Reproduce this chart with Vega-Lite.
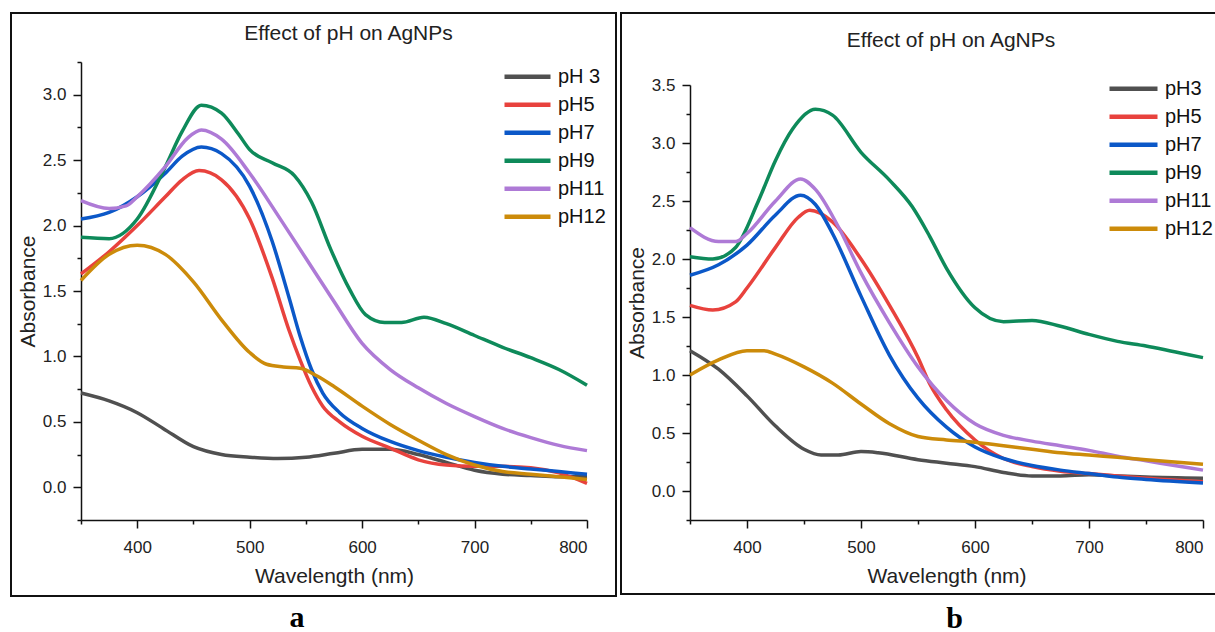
{
  "$schema": "https://vega.github.io/schema/vega-lite/v6.json",
  "background": "white",
  "padding": {"left": 10, "top": 12, "right": 0, "bottom": 0},
  "spacing": 3,
  "config": {
    "font": "Liberation Sans",
    "view": {"stroke": "#111", "strokeWidth": 2},
    "axis": {"grid": false, "labelOverlap": false, "domainColor": "#111", "domainWidth": 1.5, "tickColor": "#111", "tickWidth": 1.5, "labelColor": "#222", "titleColor": "#222", "labelFontSize": 17, "titleFontSize": 21, "titleFontWeight": "normal", "labelFont": "Liberation Sans", "titleFont": "Liberation Sans"}
  },
  "resolve": {"scale": {"x": "independent", "y": "independent", "color": "independent"}, "legend": {"color": "independent"}, "axis": {"x": "independent", "y": "independent"}},
  "datasets": {
    "a": [
      {"s":"pH 3","wl":350,"A":0.72},{"s":"pH 3","wl":375,"A":0.66},{"s":"pH 3","wl":400,"A":0.57},{"s":"pH 3","wl":423,"A":0.45},{"s":"pH 3","wl":450,"A":0.31},{"s":"pH 3","wl":475,"A":0.25},{"s":"pH 3","wl":500,"A":0.23},{"s":"pH 3","wl":525,"A":0.22},{"s":"pH 3","wl":550,"A":0.23},{"s":"pH 3","wl":575,"A":0.26},{"s":"pH 3","wl":600,"A":0.29},{"s":"pH 3","wl":625,"A":0.29},{"s":"pH 3","wl":650,"A":0.25},{"s":"pH 3","wl":675,"A":0.19},{"s":"pH 3","wl":700,"A":0.13},{"s":"pH 3","wl":725,"A":0.10},{"s":"pH 3","wl":750,"A":0.09},{"s":"pH 3","wl":775,"A":0.08},{"s":"pH 3","wl":800,"A":0.08},
      {"s":"pH5","wl":350,"A":1.63},{"s":"pH5","wl":375,"A":1.80},{"s":"pH5","wl":400,"A":2.00},{"s":"pH5","wl":425,"A":2.22},{"s":"pH5","wl":440,"A":2.35},{"s":"pH5","wl":455,"A":2.42},{"s":"pH5","wl":475,"A":2.35},{"s":"pH5","wl":500,"A":2.05},{"s":"pH5","wl":520,"A":1.60},{"s":"pH5","wl":535,"A":1.20},{"s":"pH5","wl":545,"A":0.97},{"s":"pH5","wl":555,"A":0.77},{"s":"pH5","wl":565,"A":0.62},{"s":"pH5","wl":580,"A":0.50},{"s":"pH5","wl":600,"A":0.39},{"s":"pH5","wl":625,"A":0.30},{"s":"pH5","wl":650,"A":0.21},{"s":"pH5","wl":675,"A":0.17},{"s":"pH5","wl":700,"A":0.16},{"s":"pH5","wl":725,"A":0.16},{"s":"pH5","wl":750,"A":0.15},{"s":"pH5","wl":775,"A":0.11},{"s":"pH5","wl":800,"A":0.03},
      {"s":"pH7","wl":350,"A":2.05},{"s":"pH7","wl":375,"A":2.10},{"s":"pH7","wl":400,"A":2.22},{"s":"pH7","wl":425,"A":2.40},{"s":"pH7","wl":440,"A":2.53},{"s":"pH7","wl":457,"A":2.60},{"s":"pH7","wl":475,"A":2.55},{"s":"pH7","wl":500,"A":2.30},{"s":"pH7","wl":520,"A":1.88},{"s":"pH7","wl":535,"A":1.45},{"s":"pH7","wl":545,"A":1.15},{"s":"pH7","wl":555,"A":0.90},{"s":"pH7","wl":565,"A":0.72},{"s":"pH7","wl":580,"A":0.57},{"s":"pH7","wl":600,"A":0.45},{"s":"pH7","wl":625,"A":0.35},{"s":"pH7","wl":650,"A":0.28},{"s":"pH7","wl":675,"A":0.23},{"s":"pH7","wl":700,"A":0.19},{"s":"pH7","wl":725,"A":0.16},{"s":"pH7","wl":750,"A":0.14},{"s":"pH7","wl":775,"A":0.12},{"s":"pH7","wl":800,"A":0.10},
      {"s":"pH9","wl":350,"A":1.91},{"s":"pH9","wl":375,"A":1.90},{"s":"pH9","wl":400,"A":2.05},{"s":"pH9","wl":425,"A":2.45},{"s":"pH9","wl":440,"A":2.72},{"s":"pH9","wl":457,"A":2.92},{"s":"pH9","wl":475,"A":2.86},{"s":"pH9","wl":490,"A":2.70},{"s":"pH9","wl":500,"A":2.58},{"s":"pH9","wl":520,"A":2.48},{"s":"pH9","wl":540,"A":2.38},{"s":"pH9","wl":555,"A":2.18},{"s":"pH9","wl":572,"A":1.82},{"s":"pH9","wl":589,"A":1.51},{"s":"pH9","wl":603,"A":1.32},{"s":"pH9","wl":620,"A":1.26},{"s":"pH9","wl":635,"A":1.26},{"s":"pH9","wl":655,"A":1.30},{"s":"pH9","wl":675,"A":1.25},{"s":"pH9","wl":700,"A":1.16},{"s":"pH9","wl":725,"A":1.07},{"s":"pH9","wl":750,"A":0.99},{"s":"pH9","wl":775,"A":0.90},{"s":"pH9","wl":800,"A":0.78},
      {"s":"pH11","wl":350,"A":2.19},{"s":"pH11","wl":375,"A":2.13},{"s":"pH11","wl":390,"A":2.15},{"s":"pH11","wl":400,"A":2.22},{"s":"pH11","wl":425,"A":2.45},{"s":"pH11","wl":445,"A":2.67},{"s":"pH11","wl":457,"A":2.73},{"s":"pH11","wl":475,"A":2.66},{"s":"pH11","wl":500,"A":2.40},{"s":"pH11","wl":525,"A":2.08},{"s":"pH11","wl":550,"A":1.75},{"s":"pH11","wl":575,"A":1.42},{"s":"pH11","wl":600,"A":1.10},{"s":"pH11","wl":625,"A":0.90},{"s":"pH11","wl":650,"A":0.76},{"s":"pH11","wl":675,"A":0.64},{"s":"pH11","wl":700,"A":0.54},{"s":"pH11","wl":725,"A":0.45},{"s":"pH11","wl":750,"A":0.38},{"s":"pH11","wl":775,"A":0.32},{"s":"pH11","wl":800,"A":0.28},
      {"s":"pH12","wl":350,"A":1.58},{"s":"pH12","wl":375,"A":1.78},{"s":"pH12","wl":400,"A":1.85},{"s":"pH12","wl":425,"A":1.78},{"s":"pH12","wl":450,"A":1.57},{"s":"pH12","wl":475,"A":1.28},{"s":"pH12","wl":500,"A":1.03},{"s":"pH12","wl":515,"A":0.94},{"s":"pH12","wl":530,"A":0.92},{"s":"pH12","wl":545,"A":0.91},{"s":"pH12","wl":560,"A":0.85},{"s":"pH12","wl":575,"A":0.77},{"s":"pH12","wl":600,"A":0.62},{"s":"pH12","wl":625,"A":0.48},{"s":"pH12","wl":650,"A":0.36},{"s":"pH12","wl":675,"A":0.25},{"s":"pH12","wl":700,"A":0.17},{"s":"pH12","wl":725,"A":0.12},{"s":"pH12","wl":750,"A":0.10},{"s":"pH12","wl":775,"A":0.08},{"s":"pH12","wl":800,"A":0.06}
    ],
    "b": [
      {"s":"pH3","wl":350,"A":1.21},{"s":"pH3","wl":375,"A":1.05},{"s":"pH3","wl":400,"A":0.82},{"s":"pH3","wl":425,"A":0.56},{"s":"pH3","wl":450,"A":0.36},{"s":"pH3","wl":465,"A":0.31},{"s":"pH3","wl":480,"A":0.31},{"s":"pH3","wl":500,"A":0.34},{"s":"pH3","wl":515,"A":0.33},{"s":"pH3","wl":550,"A":0.27},{"s":"pH3","wl":575,"A":0.24},{"s":"pH3","wl":600,"A":0.21},{"s":"pH3","wl":625,"A":0.16},{"s":"pH3","wl":650,"A":0.13},{"s":"pH3","wl":675,"A":0.13},{"s":"pH3","wl":700,"A":0.14},{"s":"pH3","wl":725,"A":0.13},{"s":"pH3","wl":750,"A":0.12},{"s":"pH3","wl":800,"A":0.11},
      {"s":"pH5","wl":350,"A":1.60},{"s":"pH5","wl":370,"A":1.56},{"s":"pH5","wl":390,"A":1.63},{"s":"pH5","wl":400,"A":1.75},{"s":"pH5","wl":425,"A":2.10},{"s":"pH5","wl":445,"A":2.36},{"s":"pH5","wl":455,"A":2.42},{"s":"pH5","wl":475,"A":2.32},{"s":"pH5","wl":500,"A":2.00},{"s":"pH5","wl":525,"A":1.60},{"s":"pH5","wl":550,"A":1.15},{"s":"pH5","wl":560,"A":0.93},{"s":"pH5","wl":575,"A":0.70},{"s":"pH5","wl":600,"A":0.44},{"s":"pH5","wl":625,"A":0.28},{"s":"pH5","wl":650,"A":0.21},{"s":"pH5","wl":675,"A":0.17},{"s":"pH5","wl":700,"A":0.15},{"s":"pH5","wl":725,"A":0.13},{"s":"pH5","wl":750,"A":0.11},{"s":"pH5","wl":800,"A":0.08},
      {"s":"pH7","wl":350,"A":1.86},{"s":"pH7","wl":375,"A":1.95},{"s":"pH7","wl":400,"A":2.12},{"s":"pH7","wl":425,"A":2.38},{"s":"pH7","wl":447,"A":2.55},{"s":"pH7","wl":460,"A":2.47},{"s":"pH7","wl":475,"A":2.22},{"s":"pH7","wl":500,"A":1.68},{"s":"pH7","wl":525,"A":1.17},{"s":"pH7","wl":550,"A":0.80},{"s":"pH7","wl":575,"A":0.55},{"s":"pH7","wl":600,"A":0.38},{"s":"pH7","wl":625,"A":0.28},{"s":"pH7","wl":650,"A":0.22},{"s":"pH7","wl":675,"A":0.18},{"s":"pH7","wl":700,"A":0.15},{"s":"pH7","wl":725,"A":0.12},{"s":"pH7","wl":750,"A":0.10},{"s":"pH7","wl":800,"A":0.07},
      {"s":"pH9","wl":350,"A":2.02},{"s":"pH9","wl":370,"A":2.00},{"s":"pH9","wl":390,"A":2.10},{"s":"pH9","wl":410,"A":2.50},{"s":"pH9","wl":425,"A":2.85},{"s":"pH9","wl":440,"A":3.12},{"s":"pH9","wl":460,"A":3.29},{"s":"pH9","wl":475,"A":3.24},{"s":"pH9","wl":500,"A":2.92},{"s":"pH9","wl":525,"A":2.68},{"s":"pH9","wl":545,"A":2.45},{"s":"pH9","wl":560,"A":2.20},{"s":"pH9","wl":575,"A":1.92},{"s":"pH9","wl":600,"A":1.58},{"s":"pH9","wl":625,"A":1.46},{"s":"pH9","wl":650,"A":1.47},{"s":"pH9","wl":675,"A":1.42},{"s":"pH9","wl":700,"A":1.35},{"s":"pH9","wl":725,"A":1.29},{"s":"pH9","wl":750,"A":1.25},{"s":"pH9","wl":775,"A":1.20},{"s":"pH9","wl":800,"A":1.15},
      {"s":"pH11","wl":350,"A":2.27},{"s":"pH11","wl":375,"A":2.15},{"s":"pH11","wl":390,"A":2.15},{"s":"pH11","wl":400,"A":2.22},{"s":"pH11","wl":425,"A":2.50},{"s":"pH11","wl":447,"A":2.69},{"s":"pH11","wl":460,"A":2.60},{"s":"pH11","wl":480,"A":2.28},{"s":"pH11","wl":500,"A":1.88},{"s":"pH11","wl":525,"A":1.45},{"s":"pH11","wl":550,"A":1.07},{"s":"pH11","wl":575,"A":0.78},{"s":"pH11","wl":600,"A":0.58},{"s":"pH11","wl":625,"A":0.48},{"s":"pH11","wl":650,"A":0.43},{"s":"pH11","wl":675,"A":0.39},{"s":"pH11","wl":700,"A":0.35},{"s":"pH11","wl":725,"A":0.30},{"s":"pH11","wl":750,"A":0.26},{"s":"pH11","wl":775,"A":0.22},{"s":"pH11","wl":800,"A":0.18},
      {"s":"pH12","wl":350,"A":1.00},{"s":"pH12","wl":375,"A":1.13},{"s":"pH12","wl":400,"A":1.21},{"s":"pH12","wl":415,"A":1.21},{"s":"pH12","wl":425,"A":1.18},{"s":"pH12","wl":450,"A":1.07},{"s":"pH12","wl":475,"A":0.93},{"s":"pH12","wl":500,"A":0.75},{"s":"pH12","wl":525,"A":0.58},{"s":"pH12","wl":550,"A":0.47},{"s":"pH12","wl":575,"A":0.44},{"s":"pH12","wl":600,"A":0.42},{"s":"pH12","wl":625,"A":0.39},{"s":"pH12","wl":650,"A":0.36},{"s":"pH12","wl":675,"A":0.33},{"s":"pH12","wl":700,"A":0.31},{"s":"pH12","wl":725,"A":0.29},{"s":"pH12","wl":750,"A":0.27},{"s":"pH12","wl":800,"A":0.23}
    ]
  },
  "hconcat": [
    {
      "width": 605,
      "height": 583,
      "title": {"text": "Effect of pH on AgNPs", "orient": "top", "anchor": "middle", "baseline": "alphabetic", "offset": -48, "dx": 35, "fontSize": 21, "fontWeight": "normal", "font": "Liberation Sans", "color": "#222"},
      "layer": [
        {
          "data": {"name": "a"},
          "mark": {"type": "line", "interpolate": "monotone", "strokeWidth": 3.5},
          "encoding": {
            "x": {"field": "wl", "type": "quantitative", "scale": {"domain": [350, 800], "range": [70, 576], "nice": false, "zero": false},
              "axis": {"orient": "bottom", "offset": -76, "title": "Wavelength (nm)", "values": [350,400,450,500,550,600,650,700,750,800], "labelExpr": "datum.value % 100 === 0 ? datum.label : ''", "tickSize": {"condition": {"test": "datum.value % 100 === 0", "value": 8}, "value": 4}, "labelPadding": 11, "titlePadding": 10}},
            "y": {"field": "A", "type": "quantitative", "scale": {"domain": [-0.25, 3.25], "range": [507, 49], "nice": false, "zero": false},
              "axis": {"orient": "left", "offset": -70, "title": "Absorbance", "values": [-0.25,0,0.25,0.5,0.75,1,1.25,1.5,1.75,2,2.25,2.5,2.75,3,3.25], "labelExpr": "abs(datum.value*2 - round(datum.value*2)) < 0.001 && datum.value >= 0 ? format(datum.value, '.1f') : ''", "tickSize": {"condition": {"test": "abs(datum.value*2 - round(datum.value*2)) < 0.001 && datum.value >= 0", "value": 8}, "value": 4}, "labelPadding": 7, "titlePadding": 4}},
            "color": {"field": "s", "type": "nominal", "sort": null,
              "scale": {"domain": ["pH 3","pH5","pH7","pH9","pH11","pH12"], "range": ["#505050","#e8423d","#0b58c8","#0e8a5a","#ae7ad6","#cc8b0a"]},
              "legend": {"orient": "none", "legendX": 491, "legendY": 50, "title": null, "symbolType": "stroke", "symbolSize": 2116, "symbolStrokeWidth": 4.5, "labelFontSize": 20, "labelFont": "Liberation Sans", "labelColor": "#111", "labelOffset": 5, "clipHeight": 27.5, "rowPadding": 0, "padding": 0}}
          }
        },
        {
          "data": {"values": [{}]},
          "mark": {"type": "text", "text": "a", "font": "Liberation Serif", "fontWeight": "bold", "fontSize": 30, "baseline": "alphabetic", "color": "#000"},
          "encoding": {"x": {"datum": 542, "type": "quantitative"}, "y": {"datum": -1.07, "type": "quantitative"}}
        }
      ]
    },
    {
      "width": 600,
      "height": 581,
      "title": {"text": "Effect of pH on AgNPs", "orient": "top", "anchor": "middle", "baseline": "alphabetic", "offset": -55, "dx": 30, "fontSize": 21, "fontWeight": "normal", "font": "Liberation Sans", "color": "#222"},
      "resolve": {"axis": {"y": "independent", "x": "independent"}},
      "layer": [
        {
          "data": {"name": "b"},
          "mark": {"type": "line", "interpolate": "monotone", "strokeWidth": 3.5},
          "encoding": {
            "x": {"field": "wl", "type": "quantitative", "scale": {"domain": [350, 800], "range": [69, 582], "nice": false, "zero": false},
              "axis": {"orient": "bottom", "offset": -74, "title": "Wavelength (nm)", "values": [350,400,450,500,550,600,650,700,750,800], "labelExpr": "datum.value % 100 === 0 ? datum.label : ''", "tickSize": {"condition": {"test": "datum.value % 100 === 0", "value": 8}, "value": 4}, "labelPadding": 11, "titlePadding": 10}},
            "y": {"field": "A", "type": "quantitative", "scale": {"domain": [-0.25, 3.5], "range": [507, 72], "nice": false, "zero": false},
              "axis": {"orient": "left", "offset": -69, "title": "Absorbance", "values": [0,0.5,1,1.5,2,2.5,3,3.5], "format": ".1f", "tickSize": 8, "labelPadding": 7, "titlePadding": 4}},
            "color": {"field": "s", "type": "nominal", "sort": null,
              "scale": {"domain": ["pH3","pH5","pH7","pH9","pH11","pH12"], "range": ["#505050","#e8423d","#0b58c8","#0e8a5a","#ae7ad6","#cc8b0a"]},
              "legend": {"orient": "none", "legendX": 486, "legendY": 62, "title": null, "symbolType": "stroke", "symbolSize": 2304, "symbolStrokeWidth": 4.5, "labelFontSize": 20, "labelFont": "Liberation Sans", "labelColor": "#111", "labelOffset": 5, "clipHeight": 27.5, "rowPadding": 0, "padding": 0}}
          }
        },
        {
          "data": {"values": [{}]},
          "mark": {"type": "text", "text": "b", "font": "Liberation Serif", "fontWeight": "bold", "fontSize": 30, "baseline": "alphabetic", "color": "#000"},
          "encoding": {
            "x": {"datum": 582, "type": "quantitative", "axis": null},
            "y": {"datum": -1.18, "type": "quantitative", "axis": {"orient": "left", "offset": -69, "title": null, "values": [-0.25,0.25,0.75,1.25,1.75,2.25,2.75,3.25], "labels": false, "domain": false, "tickSize": 4}}
          }
        }
      ]
    }
  ]
}
